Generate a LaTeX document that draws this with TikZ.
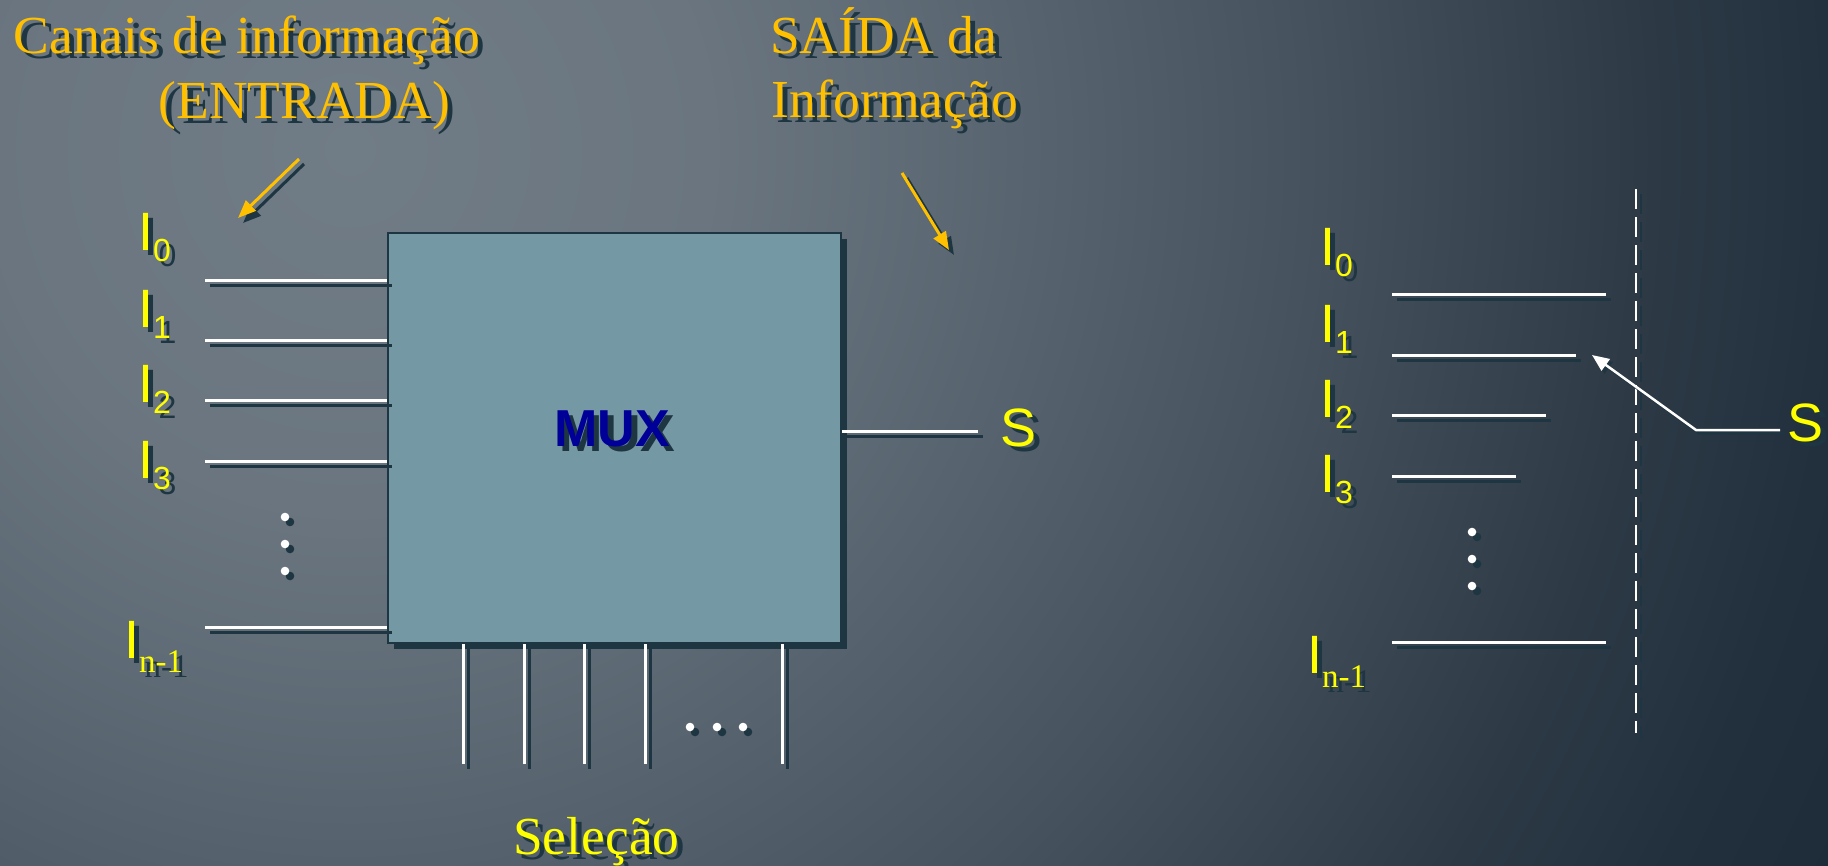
\documentclass[tikz,border=0pt]{standalone}
\usepackage{fontspec}
\setmainfont{Liberation Serif}
\newfontfamily\sansf{Liberation Sans}
\usetikzlibrary{arrows.meta,shadows,calc}
\definecolor{gold}{RGB}{255,192,0}
\definecolor{yel}{RGB}{255,255,0}
\definecolor{shc}{RGB}{30,53,66}
\definecolor{boxc}{RGB}{116,153,165}
\definecolor{muxc}{RGB}{0,0,153}
\definecolor{bgA}{RGB}{112,124,134}
\definecolor{bgB}{RGB}{106,117,127}
\definecolor{bgC}{RGB}{86,99,110}
\definecolor{bgD}{RGB}{70,82,93}
\definecolor{bgE}{RGB}{44,57,69}
\definecolor{bgF}{RGB}{34,48,62}
\definecolor{bgG}{RGB}{26,38,52}
\pgfdeclareradialshading{bgshade}{\pgfpointorigin}{color(0bp)=(bgA); color(5bp)=(bgB); color(9.7bp)=(bgC); color(13.3bp)=(bgD); color(18.3bp)=(bgE); color(20.8bp)=(bgF); color(25bp)=(bgG); color(50bp)=(bgG)}
\newcommand\shnode[4]{%
  \node[#3,text=shc,transform canvas={xshift=5.5pt,yshift=-5.5pt}] (#1-s) at (#2) {#4};
  \node[#3] (#1) at (#2) {#4};}
\newcommand\Isub[1]{I\raisebox{-11pt}{\fontsize{32}{32}\selectfont #1}}
\newcommand\Inm{I\raisebox{-14pt}{\fontsize{33}{33}\selectfont\rmfamily n-1}}
\newcommand\wirepair[2]{\draw[wsh] (#1) -- (#2); \draw[wire] (#1) -- (#2);}
\newcommand\wdot[1]{\fill[shc,shd] (#1) circle (4.3pt); \fill[white] (#1) circle (4.3pt);}
\begin{document}
\begin{tikzpicture}[x=1pt,y=-1pt,
  ttl/.style={font=\fontsize{53.5}{62}\selectfont, text=gold, inner sep=0pt, anchor=base west},
  sel/.style={ttl, text=yel},
  lbl/.style={font=\sansf\fontsize{54}{60}\selectfont, text=yel, inner sep=0pt, anchor=base west},
  muxt/.style={font=\sansf\bfseries\fontsize{52}{60}\selectfont, text=muxc, inner sep=0pt, anchor=base west},
  shd/.style={transform canvas={xshift=5pt,yshift=-5pt}},
  wire/.style={draw=white, line width=3pt},
  wsh/.style={draw=shc, line width=3pt, shd},
  oarr/.style={color=gold, line width=3pt, -{Triangle[length=18pt,width=14pt]}},
  warr/.style={color=white, line width=2.5pt, -{Triangle[length=17pt,width=14pt]}},
  dsh/.style={line width=2.7pt, dash pattern=on 20pt off 8pt}]
\useasboundingbox (0,0) rectangle (1828,865);
\begin{scope}
\clip (0,0) rectangle (1828,865);
\shade[shading=bgshade] (350,150) circle (1800pt);
\end{scope}

% titles
\shnode{t1}{13.5,53}{ttl}{Canais de informação}
\shnode{t2}{158.5,118}{ttl}{(ENTRADA)}
\shnode{t3}{770,53}{ttl}{SAÍDA da}
\shnode{t4}{771,117}{ttl}{Informação}
\shnode{sel}{513,854}{sel}{Seleção}

% orange arrows
\coordinate (a1s) at (299,159); \coordinate (a1e) at (238,218);
\coordinate (a2s) at (902,173); \coordinate (a2e) at (949,250);
\draw[oarr, color=shc, shd] (a1s) -- (a1e);
\draw[oarr] (a1s) -- (a1e);
\draw[oarr, color=shc, shd] (a2s) -- (a2e);
\draw[oarr] (a2s) -- (a2e);

% MUX box
\node[draw=shc, line width=2.5pt, fill=boxc, minimum width=453pt, minimum height=410pt, inner sep=0pt,
  drop shadow={shadow xshift=6pt, shadow yshift=-6pt, fill=shc, opacity=1}] (mux) at (614.5,438) {};
\shnode{muxlbl}{554,446}{muxt}{MUX}

% input wires (left)
\coordinate (i0) at (205,280);
\coordinate (i1) at (205,340);
\coordinate (i2) at (205,400);
\coordinate (i3) at (205,461);
\coordinate (in) at (205,627);
\foreach \c in {i0,i1,i2,i3,in} { \wirepair{\c}{\c -| mux.west} }

% select wires (bottom)
\coordinate (s1) at (463,764);
\coordinate (s2) at (524,764);
\coordinate (s3) at (584,764);
\coordinate (s4) at (645,764);
\coordinate (s5) at (782,764);
\foreach \c in {s1,s2,s3,s4,s5} { \wirepair{\c |- mux.south}{\c} }

% output wire
\coordinate (oute) at (978,431);
\wirepair{oute -| mux.east}{oute}
\shnode{Sout}{1000.6,446}{lbl}{S}

% left labels
\shnode{L0}{138,250}{lbl}{\Isub{0}}
\shnode{L1}{138,327}{lbl}{\Isub{1}}
\shnode{L2}{138,402}{lbl}{\Isub{2}}
\shnode{L3}{138,478}{lbl}{\Isub{3}}
\shnode{Ln}{124,658}{lbl}{\Inm}

% dots
\wdot{285,517} \wdot{285,544} \wdot{285,571}
\wdot{690,727} \wdot{717,727} \wdot{743,727}

% right side
\shnode{R0}{1320,265}{lbl}{\Isub{0}}
\shnode{R1}{1320,342}{lbl}{\Isub{1}}
\shnode{R2}{1320,417}{lbl}{\Isub{2}}
\shnode{R3}{1320,492}{lbl}{\Isub{3}}
\shnode{Rn}{1307,673}{lbl}{\Inm}

\coordinate (r0a) at (1392,294); \coordinate (r0b) at (1606,294);
\coordinate (r1a) at (1392,355); \coordinate (r1b) at (1576,355);
\coordinate (r2a) at (1392,415); \coordinate (r2b) at (1546,415);
\coordinate (r3a) at (1392,476); \coordinate (r3b) at (1516,476);
\coordinate (rna) at (1392,642); \coordinate (rnb) at (1606,642);
\wirepair{r0a}{r0b}
\wirepair{r1a}{r1b}
\wirepair{r2a}{r2b}
\wirepair{r3a}{r3b}
\wirepair{rna}{rnb}

\wdot{1472,532} \wdot{1472,559} \wdot{1472,586}

\coordinate (da) at (1636,189); \coordinate (db) at (1636,733);
\draw[dsh, shc, shd] (da) -- (db);
\draw[dsh, white] (da) -- (db);

\shnode{SR}{1787.6,441}{lbl}{S}
\coordinate (rsw) at (1780,430); \coordinate (rc) at (1696,430); \coordinate (rt) at (1592,355);
\draw[warr, color=shc, transform canvas={xshift=3pt,yshift=-3pt}] (rsw) -- (rc) -- (rt);
\draw[warr] (rsw) -- (rc) -- (rt);
\end{tikzpicture}
\end{document}
